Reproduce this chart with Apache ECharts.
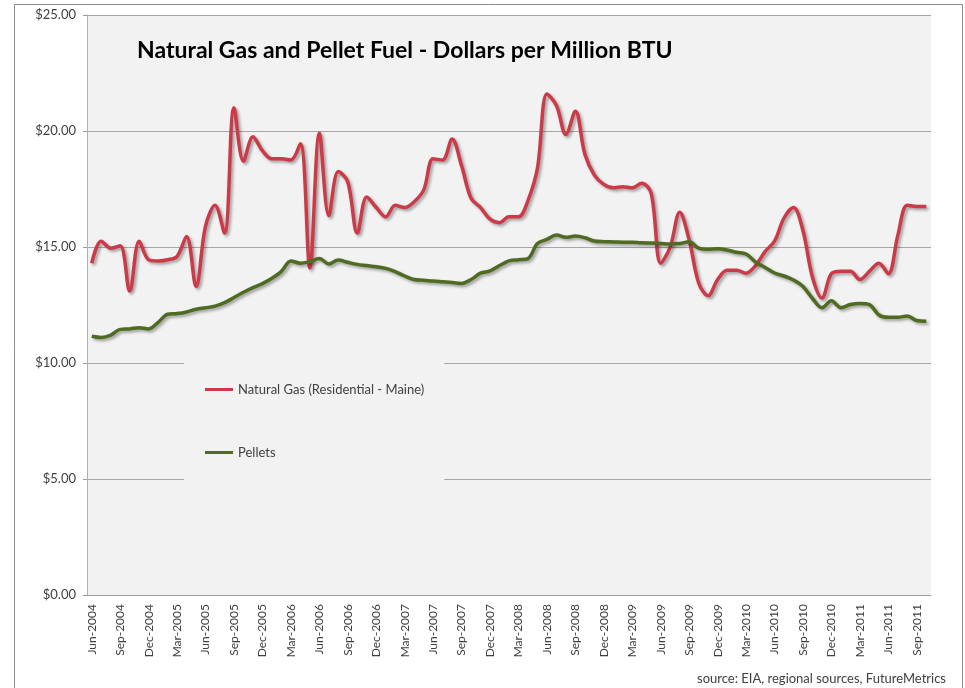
<!DOCTYPE html>
<html>
<head>
<meta charset="utf-8">
<script src="https://cdn.jsdelivr.net/npm/echarts@6/dist/echarts.min.js"></script>
<style>
  html, body { margin: 0; padding: 0; background: #fff; }
  #chart { width: 965px; height: 688px; }
</style>
</head>
<body>
<div id="chart"></div>
<script>
// monthly points, Jun-2004 .. Oct-2011
var monthNames = ['Jan', 'Feb', 'Mar', 'Apr', 'May', 'Jun', 'Jul', 'Aug', 'Sep', 'Oct', 'Nov', 'Dec'];
var startYear = 2004;
var startMonth = 5; // Jun
var monthCount = 89;

var months = [];
for (var i = 0; i < monthCount; i++) {
    var m = startMonth + i;
    months.push(monthNames[m % 12] + '-' + (startYear + Math.floor(m / 12)));
}

var naturalGas = [
    14.3, 15.25, 14.95, 15.05, 13.1, 15.25, 14.45, 14.4, 14.45, 14.6,
    15.45, 13.3, 15.9, 16.8, 15.6, 21.0, 18.7, 19.75, 19.15, 18.8,
    18.8, 18.75, 19.45, 14.1, 19.9, 16.35, 18.25, 17.8, 15.6, 17.15,
    16.7, 16.3, 16.8, 16.7, 16.95, 17.45, 18.8, 18.75, 19.65, 18.5,
    17.1, 16.7, 16.2, 16.05, 16.3, 16.3, 17.0, 18.4, 21.6, 21.1,
    19.85, 20.85, 19.0, 18.1, 17.7, 17.55, 17.6, 17.55, 17.75, 17.3,
    14.3, 15.0, 16.5, 15.3, 13.45, 12.9, 13.6, 14.0, 14.0, 13.87,
    14.2, 14.8, 15.25, 16.25, 16.7, 15.7, 13.7, 12.8, 13.85, 13.95,
    13.95, 13.6, 13.95, 14.3, 13.85, 15.5, 16.8, 16.75, 16.75
];

var pellets = [
    11.15, 11.1, 11.2, 11.45, 11.47, 11.52, 11.47, 11.75, 12.1, 12.13,
    12.2, 12.32, 12.38, 12.45, 12.6, 12.82, 13.05, 13.25, 13.42, 13.65,
    13.95, 14.4, 14.3, 14.37, 14.5, 14.27, 14.44, 14.34, 14.25, 14.2,
    14.15, 14.08, 13.94, 13.75, 13.6, 13.57, 13.53, 13.5, 13.47, 13.43,
    13.6, 13.87, 13.97, 14.2, 14.4, 14.45, 14.5, 15.15, 15.33, 15.52,
    15.42, 15.47, 15.4, 15.26, 15.23, 15.22, 15.21, 15.2, 15.18, 15.17,
    15.15, 15.13, 15.15, 15.23, 14.95, 14.9, 14.92, 14.87, 14.77, 14.7,
    14.35, 14.12, 13.88, 13.75, 13.58, 13.3, 12.78, 12.38, 12.68, 12.38,
    12.52, 12.57, 12.52, 12.07, 11.97, 11.97, 12.03, 11.83, 11.8
];

var font = 'Lato, "Open Sans", sans-serif';

var lineShadow = {
    shadowColor: 'rgba(0, 0, 0, 0.35)',
    shadowBlur: 3,
    shadowOffsetX: 2,
    shadowOffsetY: 2
};

var option = {
    animation: false,
    backgroundColor: '#fff',
    textStyle: { fontFamily: font },
    title: [
        {
            text: 'Natural Gas and Pellet Fuel - Dollars per Million BTU',
            left: 132,
            top: 34,
            textStyle: { fontFamily: font, fontSize: 23, fontWeight: 'bold', color: '#000' }
        },
        {
            text: 'source: EIA, regional sources, FutureMetrics',
            right: 14,
            top: 667,
            textStyle: { fontFamily: font, fontSize: 13, fontWeight: 'normal', color: '#404040' }
        }
    ],
    graphic: [
        {
            type: 'rect',
            shape: { x: 14.5, y: 4.5, width: 948, height: 720 },
            style: { fill: 'none', stroke: '#8c8c8c', lineWidth: 1 },
            silent: true
        }
    ],
    legend: {
        orient: 'vertical',
        left: 184,
        top: 356,
        padding: [27, 20, 25, 21],
        backgroundColor: '#f2f2f2',
        icon: 'rect',
        itemWidth: 28,
        itemHeight: 3,
        itemGap: 50,
        textStyle: { fontFamily: font, fontSize: 13, color: '#404040' }
    },
    grid: {
        left: 87,
        right: 34,
        top: 15,
        bottom: 93,
        show: true,
        backgroundColor: '#f2f2f2',
        borderWidth: 0
    },
    xAxis: {
        type: 'category',
        data: months,
        boundaryGap: true,
        axisLine: { lineStyle: { color: '#9a9a9a', width: 1 } },
        axisTick: { interval: 2, length: 5, lineStyle: { color: '#9a9a9a' } },
        axisLabel: {
            interval: 2,
            rotate: 90,
            margin: 9,
            fontFamily: font,
            fontSize: 12,
            color: '#404040'
        },
        splitLine: { show: false }
    },
    yAxis: {
        type: 'value',
        min: 0,
        max: 25,
        interval: 5,
        axisLine: { show: true, lineStyle: { color: '#b0b0b0', width: 1 } },
        axisTick: { show: true, length: 4, lineStyle: { color: '#9a9a9a' } },
        axisLabel: {
            margin: 11,
            fontFamily: font,
            fontSize: 13,
            color: '#404040',
            formatter: function (v) { return '$' + v.toFixed(2); }
        },
        splitLine: { lineStyle: { color: '#a6a6a6', width: 1 } }
    },
    series: [
        {
            name: 'Natural Gas (Residential - Maine)',
            type: 'line',
            data: naturalGas,
            smooth: 0.35,
            symbol: 'none',
            color: '#cc3a47',
            lineStyle: Object.assign({ width: 3.5, color: '#cc3a47' }, lineShadow)
        },
        {
            name: 'Pellets',
            type: 'line',
            data: pellets,
            smooth: 0.35,
            symbol: 'none',
            color: '#4f6b22',
            lineStyle: Object.assign({ width: 3.5, color: '#4f6b22' }, lineShadow)
        }
    ]
};

var myChart = echarts.init(document.getElementById('chart'));
option && myChart.setOption(option);
</script>
</body>
</html>
